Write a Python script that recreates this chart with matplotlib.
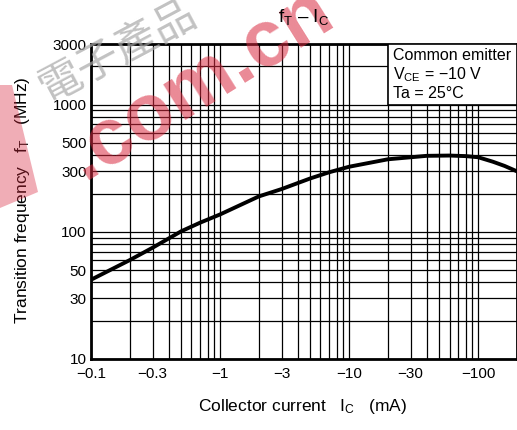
import matplotlib
matplotlib.use('Agg')
import matplotlib.pyplot as plt
from matplotlib.patches import Rectangle, Polygon
from matplotlib.ticker import LogLocator, NullFormatter, FixedLocator, FixedFormatter
import numpy as np

plt.rcParams['font.family'] = ['Liberation Sans', 'DejaVu Sans']
plt.rcParams['mathtext.fontset'] = 'custom'
plt.rcParams['mathtext.rm'] = 'Liberation Sans'
plt.rcParams['mathtext.it'] = 'Liberation Sans:italic'
plt.rcParams['mathtext.bf'] = 'Liberation Sans:bold'

# collector current (mA) and transition frequency (MHz)
ic_ma = [-0.1, -0.2, -0.3, -0.5, -0.7, -1, -2, -3, -5, -7, -10, -20, -40, -60, -80, -100, -130, -160, -200]
ft_mhz = [42, 60, 75, 101, 118, 137, 190, 217, 263, 294, 325, 372, 396, 398, 394, 386, 356, 330, 299]

x_ticks = [0.1, 0.3, 1, 3, 10, 30, 100]
x_labels = ['\u22120.1', '\u22120.3', '\u22121', '\u22123', '\u221210', '\u221230', '\u2212100']
y_ticks = [10, 30, 50, 100, 300, 500, 1000, 3000]
y_labels = ['10', '30', '50', '100', '300', '500', '1000', '3000']

W, H = 517, 430
fig = plt.figure(figsize=(W / 100, H / 100), dpi=100)
ax = fig.add_axes([91 / W, 1 - 359 / H, (517 - 91) / W, (359 - 44) / H])

ax.set_xscale('log')
ax.set_yscale('log')
ax.set_xlim(0.1, 200)
ax.set_ylim(10, 3000)

ax.xaxis.set_major_locator(FixedLocator(x_ticks))
ax.xaxis.set_major_formatter(FixedFormatter(x_labels))
ax.xaxis.set_minor_locator(LogLocator(base=10, subs=np.arange(2, 10)))
ax.xaxis.set_minor_formatter(NullFormatter())
ax.yaxis.set_major_locator(FixedLocator(y_ticks))
ax.yaxis.set_major_formatter(FixedFormatter(y_labels))
ax.yaxis.set_minor_locator(LogLocator(base=10, subs=np.arange(2, 10)))
ax.yaxis.set_minor_formatter(NullFormatter())

ax.grid(True, which='both', color='black', lw=0.9)
ax.tick_params(which='both', length=0, labelsize=11)
ax.tick_params(axis='x', pad=6)
ax.tick_params(axis='y', pad=3)
for s in ax.spines.values():
    s.set_linewidth(2)

ax.plot(-np.array(ic_ma), ft_mhz, color='black', lw=2.8, zorder=4)

# condition box in the upper right corner
ax.add_patch(Rectangle((20, 1000), 180, 2000, facecolor='white', edgecolor='black',
                       lw=1.2, zorder=3))
box_lines = ['Common emitter', r'$\mathregular{V_{CE}}$ = \u221210 V', 'Ta = 25\u00b0C']
for txt, yy in zip(box_lines, [56, 75, 93]):
    fig.text(393 / W, 1 - yy / H, txt.replace('\\u2212', '\u2212'), fontsize=11.5, va='center')

fig.text(304 / W, 1 - 17 / H, r'$\mathregular{f_T}$ \u2013 $\mathregular{I_C}$'.replace('\\u2013', '\u2013'),
         fontsize=13.5, ha='center', va='center', zorder=12)
fig.text(23 / W, 1 - 200 / H, r'Transition frequency   $\mathregular{f_T}$   (MHz)', fontsize=12.5,
         rotation=90, ha='center', va='center')
fig.text(303 / W, 1 - 407 / H, r'Collector current   $\mathregular{I_C}$   (mA)', fontsize=12.5,
         ha='center', va='center')

# watermark
fig.add_artist(Polygon([(0 / W, 1 - 85 / H), (12 / W, 1 - 85 / H), (38 / W, 1 - 192 / H),
                        (0 / W, 1 - 208 / H)], closed=True, transform=fig.transFigure,
                       facecolor='#d9293f', alpha=0.38, edgecolor='none', zorder=10))
fig.text(118 / W, 1 - 52 / H, '電子產品', fontsize=31, color='#a8a8a8', alpha=0.7,
         rotation=28, ha='center', va='center', family=['Noto Sans CJK TC', 'DejaVu Sans'], zorder=10)
fig.text(200 / W, 1 - 84 / H, '.com.cn', fontsize=57, fontweight='bold', color='#d9293f', alpha=0.55,
         rotation=32, ha='center', va='center', zorder=10)

fig.savefig('out.png', dpi=100)
